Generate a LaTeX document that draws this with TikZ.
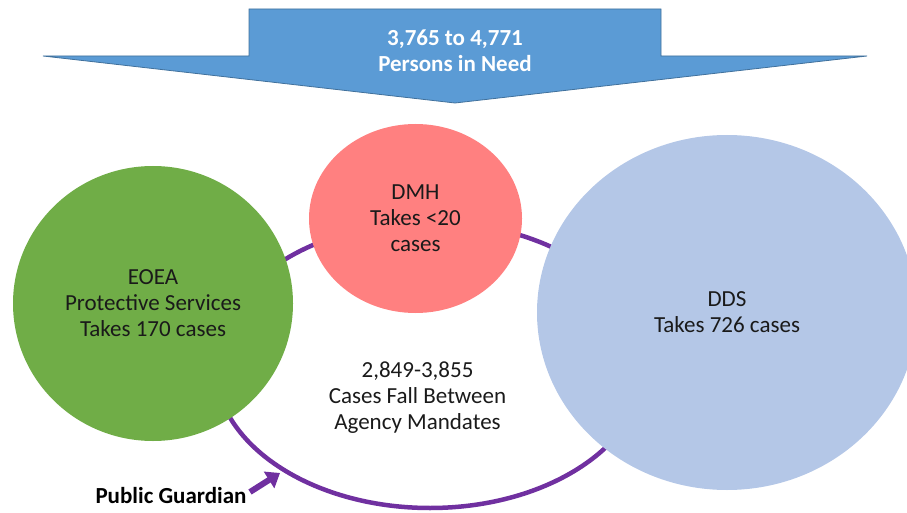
\documentclass[tikz,border=0pt]{standalone}
\usepackage{fontspec}
\setmainfont{Carlito}
\usetikzlibrary{shapes.geometric,arrows.meta}

\definecolor{arrowblue}{HTML}{5B9BD5}
\definecolor{arrowedge}{HTML}{41719C}
\definecolor{eoeagreen}{HTML}{70AD47}
\definecolor{dmhred}{HTML}{FF8080}
\definecolor{ddsblue}{HTML}{B4C7E7}
\definecolor{ringpurple}{HTML}{7030A0}
\definecolor{inktext}{HTML}{1A1A1A}

\begin{document}
\begin{tikzpicture}[x=1pt,y=-1pt,
  bodytext/.style={font=\fontsize{23}{26}\selectfont, text=inktext, align=center},
  agency/.style={ellipse, inner sep=0pt, bodytext},
  boldtext/.style={font=\fontsize{23}{26}\selectfont\bfseries, align=center},
  ring/.style={draw=ringpurple, line width=4.5pt},
  pointer/.style={draw=ringpurple, line width=6pt,
    -{Triangle[length=13pt,width=19pt]}}]

\useasboundingbox (0,0) rectangle (907,513);
\clip (0,0) rectangle (907,513);

% big downward arrow: total population
\fill[arrowblue, draw=arrowedge, line width=0.8pt]
  (249,9) -- (661,9) -- (661,56) -- (867,56) -- (455,103)
  -- (43,56) -- (249,56) -- cycle;
\node[boldtext, text=white] (need) at (455,51) {3,765 to 4,771\\Persons in Need};

% ring of cases that fall between the agencies
\draw[ring] (430,365) ellipse [x radius=215pt, y radius=143pt];

% agencies
\node[agency, fill=eoeagreen, minimum width=280pt, minimum height=275pt]
  (eoea) at (153,303.5) {EOEA\\Protective Services\\Takes 170 cases};
\node[agency, fill=dmhred, minimum width=213pt, minimum height=189pt]
  (dmh) at (415.5,218.5) {DMH\\Takes <20\\cases};
\node[agency, fill=ddsblue, minimum width=380pt, minimum height=355pt]
  (dds) at (727,312.5) {DDS\\Takes 726 cases};

% gap label
\node[bodytext] (gap) at (417.5,398) {2,849-3,855\\Cases Fall Between\\Agency Mandates};

% public guardian
\node[boldtext, text=black, anchor=base] (pg) at (171,503) {Public Guardian};
\coordinate (pgtail) at (250,492);
\coordinate (pgtip) at (280,473);
\draw[pointer] (pgtail) -- (pgtip);

\end{tikzpicture}
\end{document}
